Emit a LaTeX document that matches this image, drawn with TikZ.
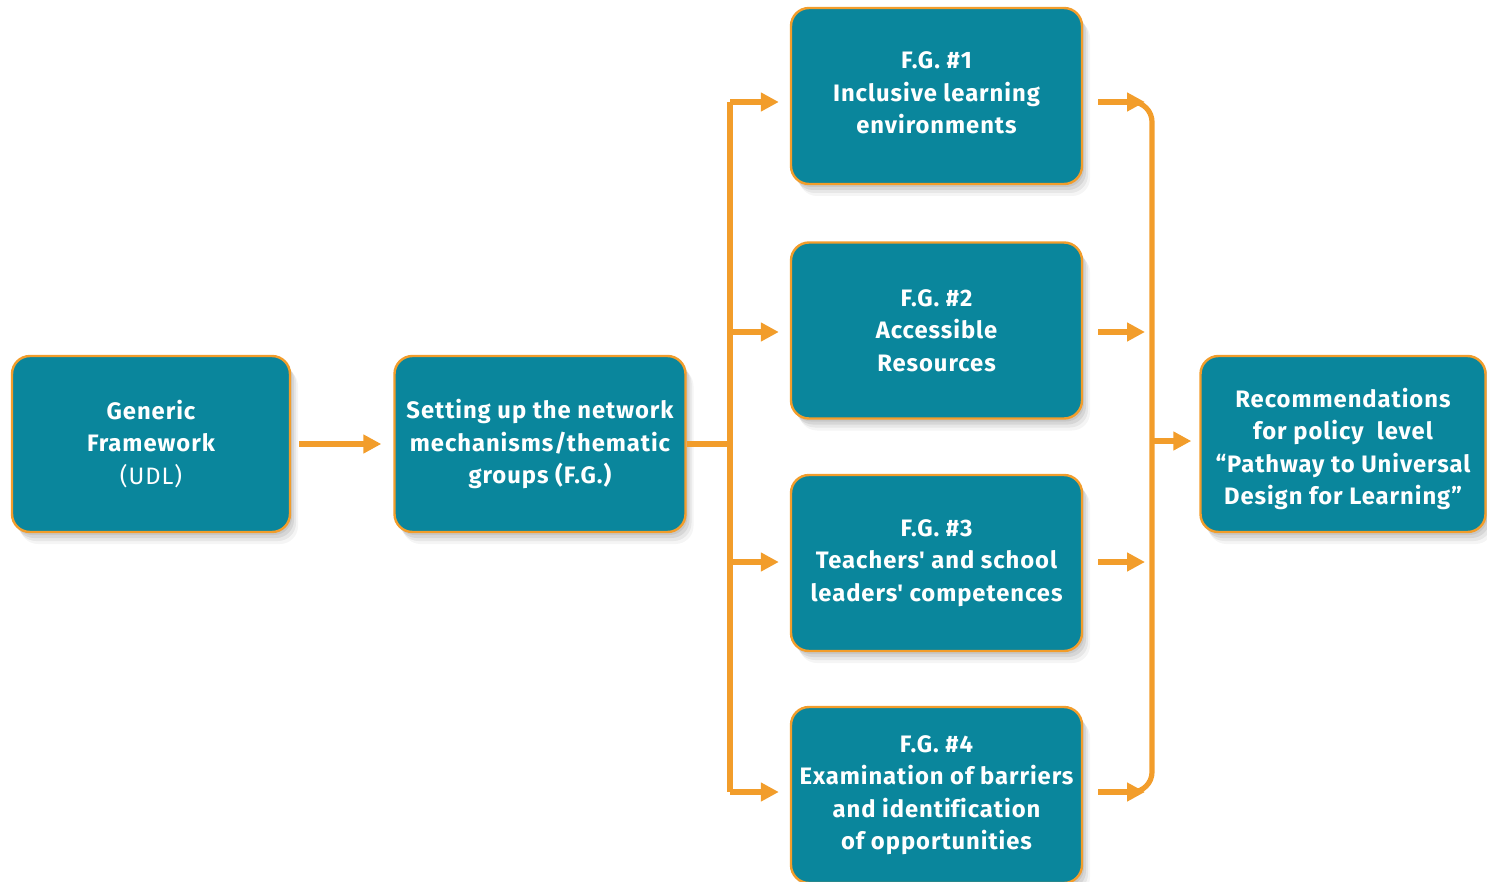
\documentclass[tikz,border=0pt]{standalone}
\usepackage{fontspec}
\setmainfont{Fira Sans}[LetterSpace=4, Ligatures=NoCommon]
\usetikzlibrary{arrows.meta,shadows}
\definecolor{tealbox}{HTML}{0A869C}
\definecolor{org}{HTML}{F29D2B}
\tikzset{
 softshadow/.style={
   drop shadow={shadow xshift=1pt, shadow yshift=-1.5pt, opacity=0.07, fill=black},
   drop shadow={shadow xshift=2pt, shadow yshift=-3pt, opacity=0.07, fill=black},
   drop shadow={shadow xshift=3pt, shadow yshift=-4.5pt, opacity=0.06, fill=black},
   drop shadow={shadow xshift=4pt, shadow yshift=-6pt, opacity=0.04, fill=black}},
 box/.style={draw=org, line width=1.2pt, fill=tealbox, rounded corners=9pt, text=white, align=center,
   font=\bfseries\fontsize{11.9}{16.25}\selectfont, inner sep=0pt, minimum height=88pt, softshadow},
 conn/.style={draw=org, line width=2.6pt},
 arr/.style={conn, -{Triangle[length=9pt,width=9pt]}},
}
\begin{document}
\begin{tikzpicture}[x=0.5pt,y=-0.5pt]
\useasboundingbox (0,0) rectangle (1487,882);
\node[box, minimum width=139pt] (gen) at (151,444) {Generic\\Framework\\\mdseries(UDL)};
\node[box, minimum width=145.5pt] (set) at (540,444) {Setting up the network\\mechanisms/thematic\\groups (F.G.)};
\node[box, minimum width=145.5pt] (fg1) at (936.5,96) {F.G. \#1\\Inclusive learning\\environments\rule[-3pt]{0pt}{0pt}};
\node[box, minimum width=145.5pt] (fg2) at (936.5,330.5) {F.G. \#2\\Accessible\\Resources};
\node[box, minimum width=145.5pt] (fg3) at (936.5,563) {F.G. \#3\\Teachers\textquotesingle{} and school\\leaders\textquotesingle{} competences};
\node[box, minimum width=145.5pt] (fg4) at (936.5,795) {F.G. \#4\\Examination of barriers\\and identi\kern0ptfication\\of opportunities};
\node[box, minimum width=142.5pt] (rec) at (1343,444) {\rule{0pt}{14.5pt}Recommendations\\for policy~ level\\“Pathway to Universal\\Design for Learning”};
% left trunk
\coordinate (jl) at (730,444);
\coordinate (j1) at (730,102);
\coordinate (j2) at (730,332);
\coordinate (j3) at (730,562);
\coordinate (j4) at (730,792);
\draw[arr, shorten <=4pt, shorten >=6pt] (gen) -- (set);
\draw[conn] (set.east) -- (jl);
\draw[conn] (j1) -- (j4);
\foreach \j/\f in {j1/fg1,j2/fg2,j3/fg3,j4/fg4}{
  \draw[arr, shorten >=5.5pt] (\j) -- (\j -| \f.west);
}
% right bracket
\coordinate (r1) at (1145,102);
\coordinate (r2) at (1145,332);
\coordinate (r3) at (1145,562);
\coordinate (r4) at (1145,792);
\coordinate (bm) at (1152,441);
\draw[conn, rounded corners=10pt] (1128,102) -- (1152,102) -- (1152,792) -- (1128,792);
\foreach \r/\f in {r1/fg1,r2/fg2,r3/fg3,r4/fg4}{
  \draw[arr, shorten <=7.5pt] (\r -| \f.east) -- (\r);
}
\draw[arr, shorten >=4pt] (bm) -- (bm -| rec.west);
\end{tikzpicture}
\end{document}
